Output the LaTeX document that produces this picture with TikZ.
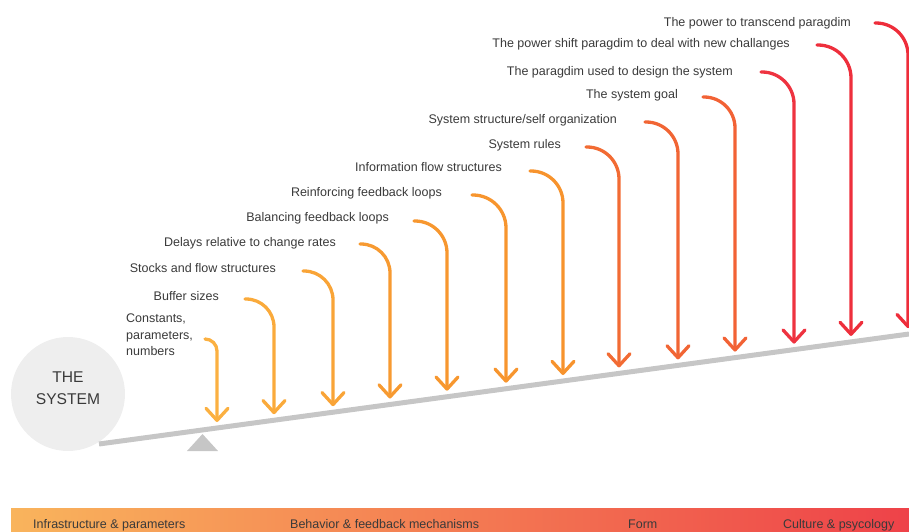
\documentclass[tikz,border=0pt]{standalone}
\usepackage{fontspec}
\setmainfont{Liberation Sans}
\usetikzlibrary{arrows.meta}

\definecolor{ink}{HTML}{3A3A3A}
\definecolor{disc}{HTML}{EEEEEE}
\definecolor{beam}{HTML}{C6C6C6}
\definecolor{cA}{HTML}{FBB041}
\definecolor{cB}{HTML}{FAAA3B}
\definecolor{cC}{HTML}{F9A437}
\definecolor{cD}{HTML}{F79A31}
\definecolor{cE}{HTML}{F7972F}
\definecolor{cF}{HTML}{F7952E}
\definecolor{cG}{HTML}{F7932D}
\definecolor{cH}{HTML}{F26B33}
\definecolor{cI}{HTML}{F16534}
\definecolor{cJ}{HTML}{F26235}
\definecolor{cK}{HTML}{EE3340}
\definecolor{cL}{HTML}{EE2F3C}
\definecolor{cM}{HTML}{EE2D3A}
\definecolor{barL}{HTML}{F9B45C}
\definecolor{barM}{HTML}{F7914A}
\definecolor{barR}{HTML}{EE4249}

\tikzset{
  lbl/.style={anchor=base east, inner sep=0pt, text=ink,
    font=\fontsize{12.5}{15}\selectfont},
  barlbl/.style={anchor=base west, inner sep=0pt, text=ink,
    font=\fontsize{12.5}{15}\selectfont},
  lever/.style={line width=3.3pt, line cap=round,
    -{Straight Barb[length=12pt,width=22pt,line width=3.3pt,round]}},
}

\begin{document}
\begin{tikzpicture}[x=1pt, y=-1pt]
\useasboundingbox (0,0) rectangle (909,532);

% the system
\node[circle, fill=disc, minimum size=114pt, inner sep=0pt] (sys) at (68,394) {};
\node[align=center, text=ink, inner sep=0pt,
  font=\fontsize{15.6}{22}\selectfont] (systxt) at (68,388) {THE\\SYSTEM};

% beam and fulcrum
\coordinate (b1) at (99,444);
\coordinate (b2) at (909,334);
\draw[beam, line width=5pt] (b1) -- (b2);
\fill[beam] (187,451) coordinate (f1) -- (218,451) coordinate (f2) -- (202.5,434) coordinate (f3) -- cycle;

% leverage point labels (the multi-line one sits on its last baseline)
\node[anchor=base west, inner sep=0pt, text=ink, align=left,
  font=\fontsize{12.5}{16.5}\selectfont] (t1) at (126,355.5) {Constants,\\parameters,\\numbers};
\node[lbl] (t2)  at (219,300.5) {Buffer sizes};
\node[lbl] (t3)  at (276,272.5) {Stocks and flow structures};
\node[lbl] (t4)  at (336,246.5) {Delays relative to change rates};
\node[lbl] (t5)  at (389,221.5) {Balancing feedback loops};
\node[lbl] (t6)  at (442,196.5) {Reinforcing feedback loops};
\node[lbl] (t7)  at (502,171.5) {Information flow structures};
\node[lbl] (t8)  at (561,148.5) {System rules};
\node[lbl] (t9)  at (617,123.5) {System structure/self organization};
\node[lbl] (t10) at (678,98.5)  {The system goal};
\node[lbl] (t11) at (733,75.5)  {The paragdim used to design the system};
\node[lbl] (t12) at (790,47.5)  {The power shift paragdim to deal with new challanges};
\node[lbl] (t13) at (851,26.5)  {The power to transcend paragdim};

% arrow starts and tips on the beam
\coordinate (s1)  at (205,339); \coordinate (e1)  at (217,422);
\coordinate (s2)  at (245,299); \coordinate (e2)  at (274,414.2);
\coordinate (s3)  at (303,271); \coordinate (e3)  at (333,406.2);
\coordinate (s4)  at (360,244); \coordinate (e4)  at (390,398.5);
\coordinate (s5)  at (414,221); \coordinate (e5)  at (447,390.7);
\coordinate (s6)  at (472,195); \coordinate (e6)  at (506,382.7);
\coordinate (s7)  at (530,171); \coordinate (e7)  at (563,375);
\coordinate (s8)  at (586,147); \coordinate (e8)  at (619,367.4);
\coordinate (s9)  at (645,122); \coordinate (e9)  at (678,359.4);
\coordinate (s10) at (703,97);  \coordinate (e10) at (735,351.6);
\coordinate (s11) at (761,72);  \coordinate (e11) at (794,343.6);
\coordinate (s12) at (817,45);  \coordinate (e12) at (851,335.9);
\coordinate (s13) at (875,23);  \coordinate (e13) at (908,328.1);

\draw[lever, cA, rounded corners=12pt] (s1)  -| (e1);
\draw[lever, cB, rounded corners=28pt] (s2)  -| (e2);
\draw[lever, cC, rounded corners=29pt] (s3)  -| (e3);
\draw[lever, cD, rounded corners=29pt] (s4)  -| (e4);
\draw[lever, cE, rounded corners=32pt] (s5)  -| (e5);
\draw[lever, cF, rounded corners=33pt] (s6)  -| (e6);
\draw[lever, cG, rounded corners=32pt] (s7)  -| (e7);
\draw[lever, cH, rounded corners=32pt] (s8)  -| (e8);
\draw[lever, cI, rounded corners=32pt] (s9)  -| (e9);
\draw[lever, cJ, rounded corners=31pt] (s10) -| (e10);
\draw[lever, cK, rounded corners=32pt] (s11) -| (e11);
\draw[lever, cL, rounded corners=33pt] (s12) -| (e12);
\draw[lever, cM, rounded corners=32pt] (s13) -| (e13);

% category bar
\shade[left color=barL, middle color=barM, right color=barR] (11,508) rectangle (909,532);
\node[barlbl] (g1) at (33,528.5)  {Infrastructure \& parameters};
\node[barlbl] (g2) at (290,528.5) {Behavior \& feedback mechanisms};
\node[barlbl] (g3) at (628,528.5) {Form};
\node[barlbl] (g4) at (783,528.5) {Culture \& psycology};
\end{tikzpicture}
\end{document}
